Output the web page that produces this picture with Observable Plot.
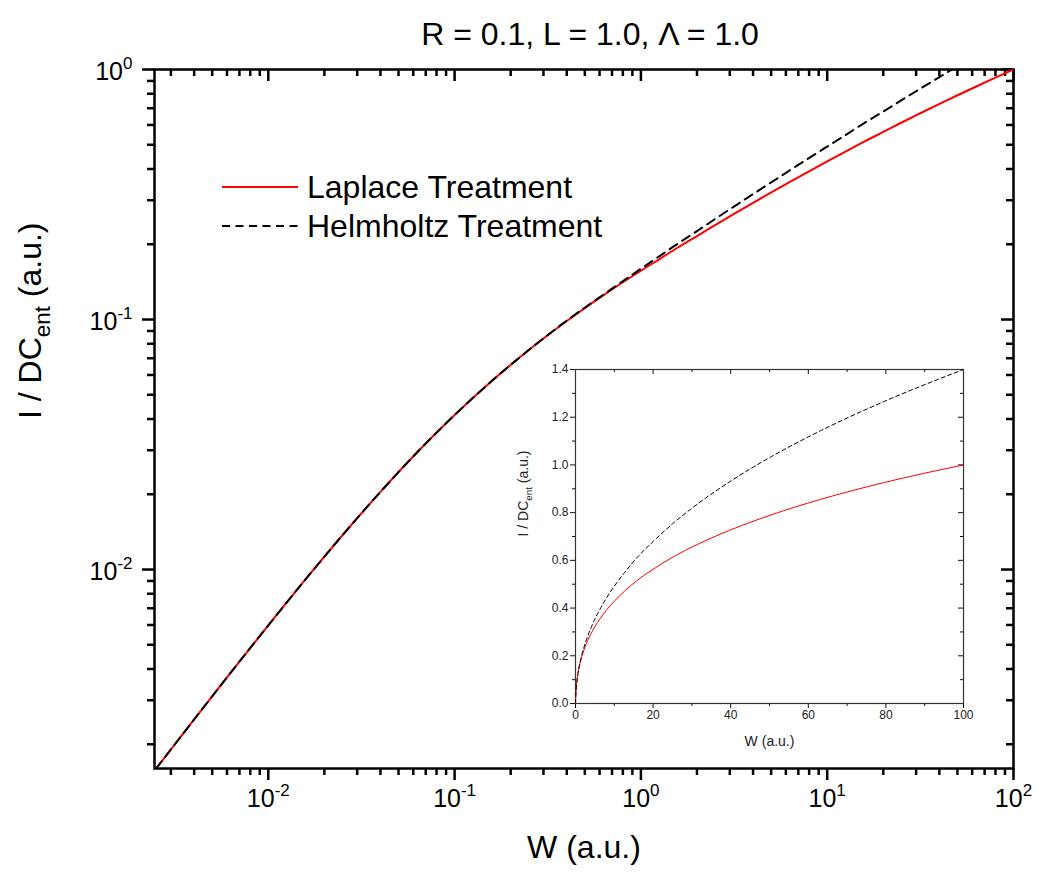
<!DOCTYPE html>
<html><head><meta charset="utf-8">
<script src="https://cdn.jsdelivr.net/npm/d3@7"></script>
<script src="https://cdn.jsdelivr.net/npm/@observablehq/plot@0.6"></script>
<style>
html,body{margin:0;padding:0;background:#fff;overflow:hidden;}
#wrap{position:relative;width:1039px;height:880px;font-family:"Liberation Sans",Arial,sans-serif;}
#wrap svg{position:absolute;}
</style></head><body><div id="wrap"></div>
<script>
// ---- data ----
const W = [0, 0.0025, 0.004, 0.0063, 0.01, 0.016, 0.025, 0.04, 0.063, 0.1, 0.16, 0.25, 0.4, 0.63,
  1, 1.26, 1.58, 2, 2.51, 3.16, 3.98, 5.01, 6.31, 7.94, 10, 12.6, 15.8, 20, 25.1, 31.6, 39.8, 50.1, 63.1, 79.4, 100];
const laplace = [0, 0.0016, 0.002514, 0.003878, 0.00598, 0.009213, 0.013709, 0.020441, 0.029444, 0.041505, 0.057149, 0.075474, 0.098605, 0.125172,
  0.1567, 0.1745, 0.1941, 0.2157, 0.2389, 0.2646, 0.2923, 0.3226, 0.3553, 0.3907, 0.4290, 0.4704, 0.5147, 0.5625, 0.6138, 0.6683, 0.7267, 0.7888, 0.8553, 0.9256, 1.0];
const helmholtz = [0, 0.0016, 0.002514, 0.003878, 0.00598, 0.009213, 0.013709, 0.020441, 0.029444, 0.041505, 0.057149, 0.075474, 0.0990, 0.1258,
  0.1596, 0.1793, 0.2012, 0.2256, 0.2528, 0.2830, 0.3166, 0.3539, 0.3953, 0.4411, 0.4918, 0.5481, 0.6104, 0.6790, 0.7545, 0.8382, 0.9301, 1.0314, 1.1429, 1.2650, 1.40];
const seriesNames = ["Laplace Treatment", "Helmholtz Treatment"];
const titleText = "R = 0.1, L = 1.0, Λ = 1.0";
const xTitle = "W (a.u.)";
const yTitle = "I / DC_{ent} (a.u.)";
const xExp = [-2, -1, 0, 1, 2];
const yExp = [-2, -1, 0];
const xDomain = [0.00245, 100];
const yDomain = [0.0016, 1];
const insetXMajor = [0, 20, 40, 60, 80, 100];
const insetXMinor = [10, 30, 50, 70, 90];
const insetYMajor = [0, 0.2, 0.4, 0.6, 0.8, 1.0, 1.2, 1.4];
const insetYMinor = [0.1, 0.3, 0.5, 0.7, 0.9, 1.1, 1.3];

const rows = W.map((w, i) => ({w, lap: laplace[i], hel: helmholtz[i]}));
const logRows = rows.filter(d => d.w > 0);
function minorLog(lo, hi) {
  const out = [];
  for (let e = Math.floor(Math.log10(lo)); e < Math.log10(hi); e++)
    for (let k = 2; k <= 9; k++) { const v = +(k * 10 ** e).toPrecision(6); if (v >= lo && v <= hi) out.push(v); }
  return out;
}
const xMajor = xExp.map(e => 10 ** e), yMajor = yExp.map(e => 10 ** e);
const xMinor = minorLog(xDomain[0], xDomain[1]), yMinor = minorLog(yDomain[0], yDomain[1]);
const FONT = "Liberation Sans, Arial, sans-serif";

// tick helpers: outward on bottom/left, inward on top/right
function ticks(fw, fh, xs, ys, len, sw, color) {
  const s = {stroke: color, strokeWidth: sw};
  return [
    Plot.tickX(xs, {x: d => d, ...s, insetTop: fh, insetBottom: -len}),
    Plot.tickX(xs, {x: d => d, ...s, insetBottom: fh - len}),
    Plot.tickY(ys, {y: d => d, ...s, insetLeft: -len, insetRight: fw}),
    Plot.tickY(ys, {y: d => d, ...s, insetLeft: fw - len})
  ];
}

const M = {w: 1039, h: 880, l: 154, r: 26, t: 69, b: 112};
const fw = M.w - M.l - M.r, fh = M.h - M.t - M.b;
const main = Plot.plot({
  width: M.w, height: M.h,
  marginLeft: M.l, marginRight: M.r, marginTop: M.t, marginBottom: M.b,
  style: {fontFamily: FONT, background: "transparent", color: "black"},
  x: {type: "log", domain: xDomain, axis: null},
  y: {type: "log", domain: yDomain, axis: null},
  marks: [
    ...ticks(fw, fh, xMajor, yMajor, 12, 2.5, "black"),
    ...ticks(fw, fh, xMinor, yMinor, 7, 2.5, "black"),
    Plot.frame({stroke: "black", strokeWidth: 2.5}),
    Plot.line(logRows, {x: "w", y: "lap", stroke: "#ff0000", strokeWidth: 2, curve: "monotone-x", clip: true}),
    Plot.line(logRows, {x: "w", y: "hel", stroke: "black", strokeWidth: 2, strokeDasharray: "9,6", curve: "monotone-x", clip: true}),
    Plot.text(xExp, {x: e => 10 ** e, frameAnchor: "bottom", text: e => `10^{${e}}`, dy: 38, fontSize: 25}),
    Plot.text(yExp, {y: e => 10 ** e, frameAnchor: "left", text: e => `10^{${e}}`, textAnchor: "end", dx: -22, dy: 2, fontSize: 25}),
    Plot.text([xTitle], {frameAnchor: "bottom", dy: 89, fontSize: 32}),
    Plot.text([yTitle], {frameAnchor: "left", rotate: -90, dx: -124, fontSize: 32}),
    Plot.text([titleText], {frameAnchor: "top", dx: 6, dy: -47, fontSize: 32})
  ]
});

const IM = {w: 510, h: 420, l: 105, r: 17, t: 19, b: 67};
const ifw = IM.w - IM.l - IM.r, ifh = IM.h - IM.t - IM.b;
const inset = Plot.plot({
  width: IM.w, height: IM.h,
  marginLeft: IM.l, marginRight: IM.r, marginTop: IM.t, marginBottom: IM.b,
  style: {fontFamily: FONT, background: "transparent", color: "#222"},
  x: {domain: [0, 100], axis: null},
  y: {domain: [0, 1.4], axis: null},
  marks: [
    ...ticks(ifw, ifh, insetXMajor, insetYMajor, 5, 1, "#111"),
    ...ticks(ifw, ifh, insetXMinor, insetYMinor, 3, 1, "#111"),
    Plot.frame({stroke: "#333", strokeWidth: 1.2}),
    Plot.line(rows, {x: "w", y: "lap", stroke: "#ff0000", strokeWidth: 1, curve: "monotone-x", clip: true}),
    Plot.line(rows, {x: "w", y: "hel", stroke: "black", strokeWidth: 1, strokeDasharray: "4,3", curve: "monotone-x", clip: true}),
    Plot.text(insetXMajor, {x: d => d, frameAnchor: "bottom", text: d => String(d), dy: 15, fontSize: 12, fill: "#222"}),
    Plot.text(insetYMajor, {y: d => d, frameAnchor: "left", text: d3.format(".1f"), textAnchor: "end", dx: -7, fontSize: 12, fill: "#222"}),
    Plot.text([xTitle], {frameAnchor: "bottom", dy: 42, fontSize: 14, fill: "#222"}),
    Plot.text([yTitle], {frameAnchor: "left", rotate: -90, dx: -52, fontSize: 14, fill: "#222"})
  ]
});

const wrap = document.getElementById("wrap");
main.style.left = "0px"; main.style.top = "0px";
inset.style.left = "470px"; inset.style.top = "350px";
wrap.appendChild(main);
wrap.appendChild(inset);

// legend
const NS = "http://www.w3.org/2000/svg";
const leg = document.createElementNS(NS, "svg");
leg.setAttribute("width", 440); leg.setAttribute("height", 90);
leg.style.left = "220px"; leg.style.top = "165px";
const legStyles = [{stroke: "#ff0000", dash: null}, {stroke: "black", dash: "8,5.5"}];
seriesNames.forEach((name, i) => {
  const y = 22 + i * 39;
  const ln = document.createElementNS(NS, "line");
  ln.setAttribute("x1", 2); ln.setAttribute("x2", 78); ln.setAttribute("y1", y); ln.setAttribute("y2", y);
  ln.setAttribute("stroke", legStyles[i].stroke); ln.setAttribute("stroke-width", 2);
  if (legStyles[i].dash) ln.setAttribute("stroke-dasharray", legStyles[i].dash);
  leg.appendChild(ln);
  const tx = document.createElementNS(NS, "text");
  tx.setAttribute("x", 87); tx.setAttribute("y", y); tx.setAttribute("dy", "0.35em");
  tx.setAttribute("font-size", 32); tx.setAttribute("font-family", FONT);
  tx.textContent = name;
  leg.appendChild(tx);
});
wrap.appendChild(leg);

// super/subscript rendering
function rich(svg) {
  svg.querySelectorAll("text").forEach(t => {
    const s = t.textContent;
    if (!/[\^_]\{/.test(s)) return;
    const fs = parseFloat(getComputedStyle(t).fontSize) || 16;
    const parts = s.split(/([\^_]\{[^}]*\})/).filter(p => p);
    while (t.firstChild) t.removeChild(t.firstChild);
    let shift = 0;
    for (const p of parts) {
      const ts = document.createElementNS(NS, "tspan");
      let target = 0, txt = p, size = null;
      if (p.startsWith("^{")) { target = -0.42 * fs; txt = p.slice(2, -1); size = 0.68 * fs; }
      else if (p.startsWith("_{")) { target = 0.28 * fs; txt = p.slice(2, -1); size = 0.7 * fs; }
      const dy = target - shift;
      if (dy) ts.setAttribute("dy", dy.toFixed(2));
      shift = target;
      if (size) ts.setAttribute("font-size", size.toFixed(2));
      ts.textContent = txt;
      t.appendChild(ts);
    }
  });
}
rich(main); rich(inset);
</script></body></html>
